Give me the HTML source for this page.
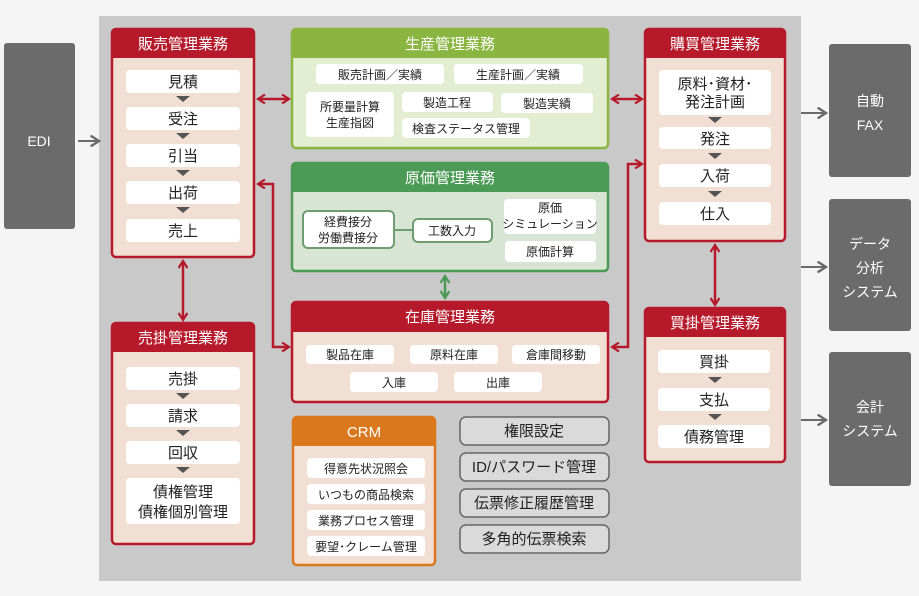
<!DOCTYPE html>
<html><head><meta charset="utf-8"><style>
html,body{margin:0;padding:0;background:#f5f5f5;}
svg{display:block;font-family:"Liberation Sans","Noto Sans CJK JP",sans-serif;}
.h{fill:#fff;font-size:15px;text-anchor:middle;}
.t{fill:#222;font-size:15px;text-anchor:middle;}
.s{fill:#222;font-size:12px;text-anchor:middle;}
.w{fill:#fff;font-size:14px;text-anchor:middle;}
</style></head><body>
<svg width="919" height="596" viewBox="0 0 919 596" xmlns="http://www.w3.org/2000/svg">
<defs>
<marker id="ar" viewBox="0 0 10 10" refX="8" refY="5" markerWidth="10" markerHeight="10" orient="auto-start-reverse" markerUnits="userSpaceOnUse"><path d="M1,0.5 L8,5 L1,9.5" fill="none" stroke="#b5192a" stroke-width="2.2"/></marker>
<marker id="ag" viewBox="0 0 10 10" refX="8" refY="5" markerWidth="10" markerHeight="10" orient="auto-start-reverse" markerUnits="userSpaceOnUse"><path d="M1,0.5 L8,5 L1,9.5" fill="none" stroke="#4b9a55" stroke-width="2.2"/></marker>
<marker id="ak" viewBox="0 0 10 10" refX="8" refY="5" markerWidth="12" markerHeight="12" orient="auto" markerUnits="userSpaceOnUse"><path d="M1,0.5 L8,5 L1,9.5" fill="none" stroke="#6b6b6b" stroke-width="2"/></marker>
</defs>
<rect x="99" y="16" width="702" height="565" fill="#c9c9c9"/>
<rect x="4" y="43" width="71" height="186" rx="3" fill="#6b6b6b"/>
<text x="39" y="146" class="w">EDI</text>
<line x1="78" y1="141" x2="99" y2="141" stroke="#6b6b6b" stroke-width="2" marker-end="url(#ak)"/>
<rect x="829" y="44" width="82" height="133" rx="3" fill="#6b6b6b"/>
<text x="870" y="106" class="w">自動</text><text x="870" y="130" class="w">FAX</text>
<rect x="829" y="199" width="82" height="132" rx="3" fill="#6b6b6b"/>
<text x="870" y="249" class="w">データ</text><text x="870" y="273" class="w">分析</text><text x="870" y="297" class="w">システム</text>
<rect x="829" y="352" width="82" height="134" rx="3" fill="#6b6b6b"/>
<text x="870" y="412" class="w">会計</text><text x="870" y="436" class="w">システム</text>
<g stroke="#6b6b6b" stroke-width="2" marker-end="url(#ak)">
<line x1="801" y1="113" x2="826" y2="113"/><line x1="801" y1="267" x2="826" y2="267"/><line x1="801" y1="420" x2="826" y2="420"/>
</g>
<rect x="112" y="29" width="142" height="228" rx="4" fill="#f2dfd3" stroke="#b5192a" stroke-width="2.5"/>
<path d="M112,58 V33 a4,4 0 0 1 4,-4 H250 a4,4 0 0 1 4,4 V58 Z" fill="#b5192a"/>
<text x="183" y="49" class="h">販売管理業務</text>
<g fill="#fff"><rect x="126" y="70" width="114" height="23" rx="4"/><rect x="126" y="107" width="114" height="23" rx="4"/><rect x="126" y="144" width="114" height="23" rx="4"/><rect x="126" y="181" width="114" height="23" rx="4"/><rect x="126" y="219" width="114" height="23" rx="4"/></g>
<g fill="#555"><path d="M176,96 h14 l-7,6z"/><path d="M176,133 h14 l-7,6z"/><path d="M176,170 h14 l-7,6z"/><path d="M176,207 h14 l-7,6z"/></g>
<text x="183" y="87" class="t">見積</text><text x="183" y="124" class="t">受注</text><text x="183" y="161" class="t">引当</text><text x="183" y="198" class="t">出荷</text><text x="183" y="236" class="t">売上</text>
<rect x="112" y="323" width="142" height="221" rx="4" fill="#f2dfd3" stroke="#b5192a" stroke-width="2.5"/>
<path d="M112,352 V327 a4,4 0 0 1 4,-4 H250 a4,4 0 0 1 4,4 V352 Z" fill="#b5192a"/>
<text x="183" y="343" class="h">売掛管理業務</text>
<g fill="#fff"><rect x="126" y="367" width="114" height="23" rx="4"/><rect x="126" y="404" width="114" height="23" rx="4"/><rect x="126" y="441" width="114" height="23" rx="4"/><rect x="126" y="478" width="114" height="46" rx="4"/></g>
<g fill="#555"><path d="M176,393 h14 l-7,6z"/><path d="M176,430 h14 l-7,6z"/><path d="M176,467 h14 l-7,6z"/></g>
<text x="183" y="384" class="t">売掛</text><text x="183" y="421" class="t">請求</text><text x="183" y="458" class="t">回収</text><text x="183" y="497" class="t">債権管理</text><text x="183" y="517" class="t">債権個別管理</text>
<rect x="292" y="29" width="316" height="119" rx="4" fill="#e3edd2" stroke="#8ab540" stroke-width="2.5"/>
<path d="M292,58 V33 a4,4 0 0 1 4,-4 H604 a4,4 0 0 1 4,4 V58 Z" fill="#8ab540"/>
<text x="450" y="49" class="h">生産管理業務</text>
<g fill="#fff"><rect x="316" y="64" width="128" height="20" rx="4"/><rect x="454" y="64" width="129" height="20" rx="4"/><rect x="306" y="92" width="88" height="45" rx="4"/><rect x="402" y="92" width="91" height="20" rx="4"/><rect x="501" y="93" width="92" height="20" rx="4"/><rect x="402" y="118" width="128" height="20" rx="4"/></g>
<text x="380" y="79" class="s">販売計画／実績</text><text x="518" y="79" class="s">生産計画／実績</text>
<text x="350" y="111" class="s">所要量計算</text><text x="350" y="127" class="s">生産指図</text>
<text x="447" y="107" class="s">製造工程</text><text x="547" y="108" class="s">製造実績</text><text x="466" y="133" class="s">検査ステータス管理</text>
<rect x="292" y="163" width="316" height="108" rx="4" fill="#d8e5d4" stroke="#4b9a55" stroke-width="2.5"/>
<path d="M292,192 V167 a4,4 0 0 1 4,-4 H604 a4,4 0 0 1 4,4 V192 Z" fill="#4b9a55"/>
<text x="450" y="183" class="h">原価管理業務</text>
<line x1="394" y1="230" x2="413" y2="230" stroke="#6f9d70" stroke-width="2"/>
<rect x="303" y="211" width="91" height="37" rx="5" fill="#fff" stroke="#6f9d70" stroke-width="2"/>
<rect x="413" y="219" width="79" height="23" rx="5" fill="#fff" stroke="#6f9d70" stroke-width="2"/>
<rect x="504" y="199" width="92" height="35" rx="4" fill="#fff"/><rect x="505" y="241" width="91" height="21" rx="4" fill="#fff"/>
<text x="348" y="226" class="s">経費接分</text><text x="348" y="242" class="s">労働費接分</text>
<text x="452" y="235" class="s">工数入力</text>
<text x="550" y="212" class="s">原価</text><text x="550" y="228" class="s">シミュレーション</text>
<text x="550" y="256" class="s">原価計算</text>
<line x1="445" y1="276" x2="445" y2="298" stroke="#4b9a55" stroke-width="2.5" marker-start="url(#ag)" marker-end="url(#ag)"/>
<rect x="292" y="302" width="316" height="100" rx="4" fill="#f2dfd3" stroke="#b5192a" stroke-width="2.5"/>
<path d="M292,332 V306 a4,4 0 0 1 4,-4 H604 a4,4 0 0 1 4,4 V332 Z" fill="#b5192a"/>
<text x="450" y="322" class="h">在庫管理業務</text>
<g fill="#fff"><rect x="306" y="345" width="88" height="19" rx="4"/><rect x="410" y="345" width="88" height="19" rx="4"/><rect x="512" y="345" width="88" height="19" rx="4"/><rect x="350" y="372" width="88" height="20" rx="4"/><rect x="454" y="372" width="88" height="20" rx="4"/></g>
<text x="350" y="359" class="s">製品在庫</text><text x="454" y="359" class="s">原料在庫</text><text x="556" y="359" class="s">倉庫間移動</text><text x="394" y="387" class="s">入庫</text><text x="498" y="387" class="s">出庫</text>
<rect x="293" y="417" width="142" height="148" rx="4" fill="#f2dfd3" stroke="#d9781c" stroke-width="2.5"/>
<path d="M293,446 V421 a4,4 0 0 1 4,-4 H431 a4,4 0 0 1 4,4 V446 Z" fill="#d9781c"/>
<text x="364" y="437" class="h">CRM</text>
<g fill="#fff"><rect x="307" y="458" width="118" height="20" rx="4"/><rect x="307" y="484" width="118" height="20" rx="4"/><rect x="307" y="510" width="118" height="20" rx="4"/><rect x="307" y="536" width="118" height="20" rx="4"/></g>
<text x="366" y="473" class="s">得意先状況照会</text><text x="366" y="499" class="s">いつもの商品検索</text><text x="366" y="525" class="s">業務プロセス管理</text><text x="366" y="551" class="s">要望･クレーム管理</text>
<g fill="#dadada" stroke="#666" stroke-width="1.5"><rect x="460" y="417" width="149" height="28" rx="6"/><rect x="460" y="453" width="149" height="28" rx="6"/><rect x="460" y="489" width="149" height="28" rx="6"/><rect x="460" y="525" width="149" height="28" rx="6"/></g>
<text x="534" y="436" class="t">権限設定</text><text x="534" y="472" class="t">ID/パスワード管理</text><text x="534" y="508" class="t">伝票修正履歴管理</text><text x="534" y="544" class="t">多角的伝票検索</text>
<rect x="645" y="29" width="140" height="212" rx="4" fill="#f2dfd3" stroke="#b5192a" stroke-width="2.5"/>
<path d="M645,58 V33 a4,4 0 0 1 4,-4 H781 a4,4 0 0 1 4,4 V58 Z" fill="#b5192a"/>
<text x="715" y="49" class="h">購買管理業務</text>
<g fill="#fff"><rect x="659" y="70" width="112" height="45" rx="4"/><rect x="659" y="127" width="112" height="22" rx="4"/><rect x="659" y="164" width="112" height="23" rx="4"/><rect x="659" y="202" width="112" height="23" rx="4"/></g>
<g fill="#555"><path d="M708,117 h14 l-7,6z"/><path d="M708,153 h14 l-7,6z"/><path d="M708,191 h14 l-7,6z"/></g>
<text x="715" y="89" class="t">原料･資材･</text><text x="715" y="107" class="t">発注計画</text><text x="715" y="144" class="t">発注</text><text x="715" y="181" class="t">入荷</text><text x="715" y="219" class="t">仕入</text>
<rect x="645" y="308" width="140" height="154" rx="4" fill="#f2dfd3" stroke="#b5192a" stroke-width="2.5"/>
<path d="M645,337 V312 a4,4 0 0 1 4,-4 H781 a4,4 0 0 1 4,4 V337 Z" fill="#b5192a"/>
<text x="715" y="328" class="h">買掛管理業務</text>
<g fill="#fff"><rect x="658" y="350" width="112" height="23" rx="4"/><rect x="658" y="388" width="112" height="23" rx="4"/><rect x="658" y="425" width="112" height="23" rx="4"/></g>
<g fill="#555"><path d="M708,377 h14 l-7,6z"/><path d="M708,414 h14 l-7,6z"/></g>
<text x="714" y="367" class="t">買掛</text><text x="714" y="405" class="t">支払</text><text x="714" y="442" class="t">債務管理</text>
<g stroke="#b5192a" stroke-width="2.5" fill="none">
<line x1="258" y1="99" x2="289" y2="99" marker-start="url(#ar)" marker-end="url(#ar)"/>
<line x1="612" y1="99" x2="642" y2="99" marker-start="url(#ar)" marker-end="url(#ar)"/>
<line x1="183" y1="261" x2="183" y2="320" marker-start="url(#ar)" marker-end="url(#ar)"/>
<line x1="715" y1="245" x2="715" y2="305" marker-start="url(#ar)" marker-end="url(#ar)"/>
<polyline points="258,184 273,184 273,347 289,347" marker-start="url(#ar)" marker-end="url(#ar)"/>
<polyline points="612,347 628,347 628,164 642,164" marker-start="url(#ar)" marker-end="url(#ar)"/>
</g>
</svg>
</body></html>
